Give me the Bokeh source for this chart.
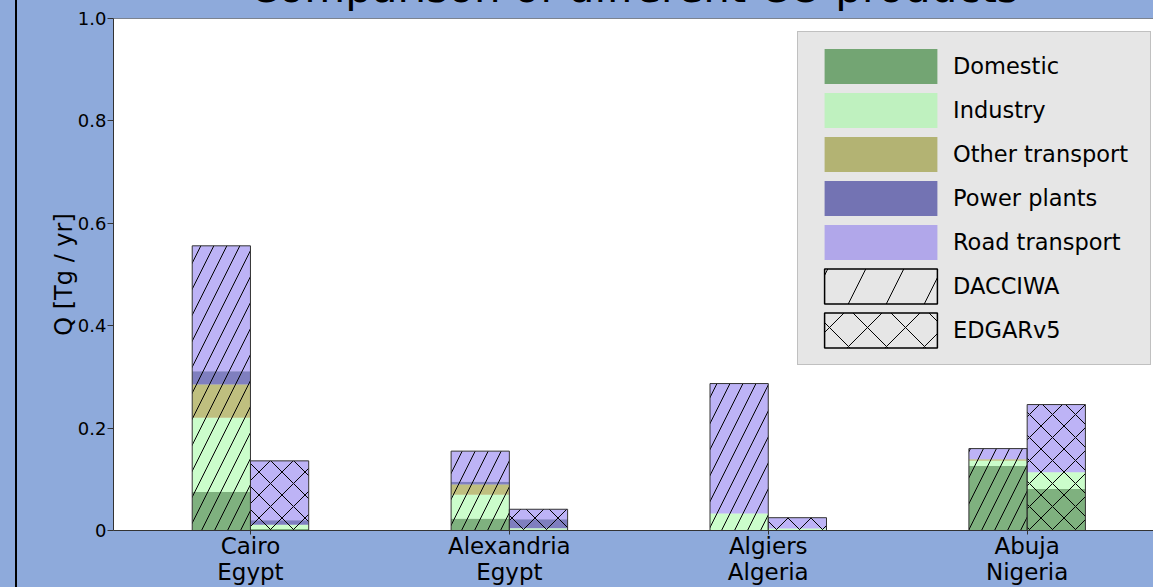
import numpy as np
from bokeh.plotting import figure
from bokeh.models import (ColumnDataSource, FixedTicker, Legend, LegendItem,
                          Span, Div)
from bokeh.layouts import row, column
from bokeh.embed import file_html
from bokeh.resources import INLINE

# --- data -----------------------------------------------------------------
cities = ["Cairo", "Alexandria", "Algiers", "Abuja"]
countries = ["Egypt", "Egypt", "Algeria", "Nigeria"]
sectors = ["Domestic", "Industry", "Other transport", "Power plants", "Road transport"]
sector_colors = ["darkgreen", "palegreen", "olive", "navy", "mediumslateblue"]

# CO emissions per sector [Tg / yr], DACCIWA inventory
dacciwa_domestic = [0.075, 0.023, 0.000, 0.126]
dacciwa_industry = [0.145, 0.047, 0.033, 0.010]
dacciwa_other_transport = [0.065, 0.020, 0.000, 0.003]
dacciwa_power_plants = [0.026, 0.005, 0.000, 0.000]
dacciwa_road_transport = [0.245, 0.060, 0.254, 0.021]

# CO emissions per sector [Tg / yr], EDGARv5 inventory
edgar_domestic = [0.003, 0.0015, 0.001, 0.081]
edgar_industry = [0.008, 0.003, 0.003, 0.033]
edgar_other_transport = [0.000, 0.000, 0.000, 0.000]
edgar_power_plants = [0.009, 0.0175, 0.000, 0.000]
edgar_road_transport = [0.116, 0.0195, 0.021, 0.132]

y_ticks = [0, 0.2, 0.4, 0.6, 0.8, 1]
y_tick_labels = ["0", "0.2", "0.4", "0.6", "0.8", "1.0"]

TITLE = "Comparison of different CO products"

# --- styling --------------------------------------------------------------
FONT = "DejaVu Sans"
BG = "#8eaadb"
BAR_W = 0.225

# transparent border so the title strip underneath shows through
p = figure(width=1136, height=587, x_range=(-0.529, 3.488), y_range=(0, 1.0),
           output_backend="svg", toolbar_location=None,
           min_border_left=96, min_border_right=0, min_border_top=18,
           min_border_bottom=57, border_fill_color=BG, border_fill_alpha=0,
           background_fill_color="white", outline_line_color=None,
           margin=(-18, 0, 0, 0))
p.grid.visible = False

x_idx = np.arange(len(cities), dtype=float)


def draw_stack(layers, offset, hatch, hatch_scale):
    bottom = np.zeros(len(cities))
    rends = []
    for color, vals in zip(sector_colors, layers):
        top = bottom + np.asarray(vals, dtype=float)
        src = ColumnDataSource(dict(x=x_idx + offset, bottom=bottom, top=top))
        r = p.vbar(x="x", bottom="bottom", top="top", width=BAR_W, source=src,
                   fill_color=color, fill_alpha=0.5, line_color=None)
        rends.append(r)
        bottom = top
    # hatched outline over the whole stack
    src = ColumnDataSource(dict(x=x_idx + offset, top=bottom))
    p.vbar(x="x", bottom=0, top="top", width=BAR_W, source=src,
           fill_color=None, line_color="#333333", line_width=1,
           hatch_pattern=hatch, hatch_color="black", hatch_weight=1,
           hatch_scale=hatch_scale)
    return rends


dacciwa_layers = [dacciwa_domestic, dacciwa_industry, dacciwa_other_transport,
                  dacciwa_power_plants, dacciwa_road_transport]
edgar_layers = [edgar_domestic, edgar_industry, edgar_other_transport,
                edgar_power_plants, edgar_road_transport]

sector_rends = draw_stack(dacciwa_layers, -BAR_W / 2, "/", 26)
draw_stack(edgar_layers, BAR_W / 2, "x", 23)

# legend swatches for the two inventories (zero-size proxies)
proxy = ColumnDataSource(dict(x=[0.0], top=[0.0]))
r_dacciwa = p.vbar(x="x", top="top", width=0, source=proxy, fill_color=None,
                   line_color="black", line_width=1.5, hatch_pattern="/",
                   hatch_color="black", hatch_weight=1, hatch_scale=76)
r_edgar = p.vbar(x="x", top="top", width=0, source=proxy, fill_color=None,
                 line_color="black", line_width=1.5, hatch_pattern="x",
                 hatch_color="black", hatch_weight=1, hatch_scale=38)

items = [LegendItem(label=s, renderers=[r]) for s, r in zip(sectors, sector_rends)]
items += [LegendItem(label="DACCIWA", renderers=[r_dacciwa]),
          LegendItem(label="EDGARv5", renderers=[r_edgar])]

legend = Legend(items=items, location=(684, 165),
                border_line_color="#999999", border_line_width=1.5,
                background_fill_color="#e6e6e6", background_fill_alpha=1.0,
                label_text_font=FONT, label_text_font_size="22.5px",
                label_text_color="black",
                glyph_width=141, glyph_height=44, label_standoff=2,
                label_width=185, spacing=0, padding=12)
p.add_layout(legend)

# top spine
p.add_layout(Span(location=1.0, dimension="width", line_color="#333333", line_width=1))

# axes
p.yaxis.ticker = FixedTicker(ticks=y_ticks)
p.yaxis.major_label_overrides = dict(zip(y_ticks, y_tick_labels))
p.yaxis.major_label_text_font = FONT
p.yaxis.major_label_text_font_size = "18px"
p.yaxis.major_label_text_color = "black"
p.yaxis.major_tick_out = 6
p.yaxis.major_tick_in = 0
p.yaxis.minor_tick_line_color = None
p.yaxis.major_label_standoff = 1
p.yaxis.axis_line_color = "#333333"
p.yaxis.major_tick_line_color = "#333333"
p.yaxis.axis_label = "Q [Tg / yr]"
p.yaxis.axis_label_text_font = FONT
p.yaxis.axis_label_text_font_size = "24px"
p.yaxis.axis_label_text_font_style = "normal"
p.yaxis.axis_label_text_color = "black"
p.yaxis.axis_label_standoff = -3

p.xaxis.ticker = FixedTicker(ticks=list(x_idx))
p.xaxis.major_label_overrides = {i: f"{c}\n{k}" for i, (c, k) in enumerate(zip(cities, countries))}
p.xaxis.major_label_text_font = FONT
p.xaxis.major_label_text_font_size = "23px"
p.xaxis.major_label_text_color = "black"
p.xaxis.major_label_text_line_height = 1.0
p.xaxis.major_tick_out = 4
p.xaxis.major_tick_in = 0
p.xaxis.minor_tick_line_color = None
p.xaxis.major_label_standoff = -2
p.xaxis.axis_line_color = "#333333"
p.xaxis.major_tick_line_color = "#333333"

# title strip: the heading sits partly above the top edge of the page
title_html = (
    '<div style="position:relative; top:-33px; left:49px; width:1136px; '
    'text-align:center; white-space:nowrap; font-family:\'DejaVu Sans\'; '
    'font-size:42px; line-height:42px; color:black;">' + TITLE + '</div>'
)
title_strip = Div(text=title_html, width=1136, height=18, margin=0,
                  styles={"background-color": BG, "overflow": "hidden"})

left_pad = Div(text="", width=15, height=587, margin=0,
               styles={"background-color": BG})
edge = Div(text="", width=2, height=587, margin=0,
           styles={"background-color": "black"})
main = column(title_strip, p, spacing=0, styles={"background-color": BG})
layout = row(left_pad, edge, main, spacing=0)

open("out.html", "w").write(file_html(layout, INLINE))
